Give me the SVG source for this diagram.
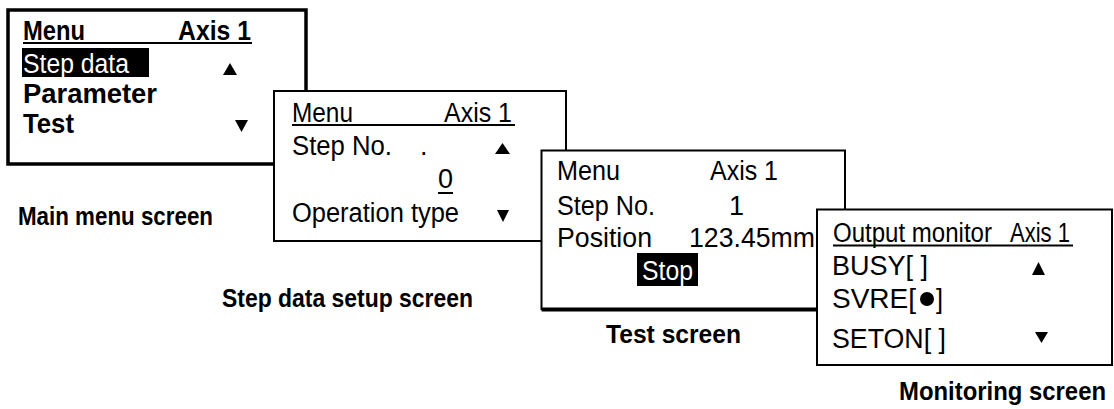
<svg xmlns="http://www.w3.org/2000/svg" width="1114" height="409" viewBox="0 0 1114 409">
<style>
.box{fill:#fff;stroke:#000}
.t{font-family:"Liberation Sans",Arial,sans-serif;font-size:27px;fill:#000}
.b{font-weight:bold}
.w{fill:#fff}
.lbl{font-family:"Liberation Sans",Arial,sans-serif;font-size:25px;font-weight:bold;fill:#000}
.ul{stroke:#000;stroke-width:2}
.tri{fill:#000}
</style>
<g id="connectors"></g>
<g id="main-menu">
<rect class="box" x="8" y="10" width="298" height="154" stroke-width="3.5"/>
<text class="t b" x="23" y="40" font-size="24" textLength="62" lengthAdjust="spacingAndGlyphs">Menu</text>
<text class="t b" x="178" y="40" font-size="24" textLength="73" lengthAdjust="spacingAndGlyphs">Axis 1</text>
<line class="ul" x1="23" y1="43" x2="252" y2="43" stroke-width="2.5"/>
<rect x="22" y="48" width="127" height="29" fill="#000"/>
<text class="t w" x="23" y="73" font-size="28" textLength="106" lengthAdjust="spacingAndGlyphs">Step data</text>
<polygon class="tri" points="223,75 237,75 230,63"/>
<text class="t b" x="23" y="103" font-size="24" textLength="134" lengthAdjust="spacingAndGlyphs">Parameter</text>
<text class="t b" x="23" y="133" font-size="24" textLength="51" lengthAdjust="spacingAndGlyphs">Test</text>
<polygon class="tri" points="235,120 248,120 241.5,132"/>
</g>
<g id="step-data-setup">
<rect class="box" x="274" y="91" width="292" height="150" stroke-width="2"/>
<text class="t" x="292" y="122" textLength="61" lengthAdjust="spacingAndGlyphs">Menu</text>
<text class="t" x="444" y="122" textLength="68" lengthAdjust="spacingAndGlyphs">Axis 1</text>
<line class="ul" x1="292" y1="125" x2="515" y2="125" stroke-width="1.6"/>
<text class="t" x="292" y="155" textLength="100" lengthAdjust="spacingAndGlyphs">Step No.</text>
<text class="t" x="420" y="155">.</text>
<polygon class="tri" points="495,154 510,154 502.5,143"/>
<text class="t" x="438" y="188">0</text>
<line class="ul" x1="438" y1="193" x2="453" y2="193" stroke-width="1.6"/>
<text class="t" x="292" y="222" textLength="167" lengthAdjust="spacingAndGlyphs">Operation type</text>
<polygon class="tri" points="497,210 509,210 503,222"/>
</g>
<g id="test">
<rect class="box" x="541.5" y="150.5" width="303.5" height="158.5" stroke-width="2"/>
<line x1="541.5" y1="309.5" x2="845" y2="309.5" stroke="#000" stroke-width="4"/>
<text class="t" x="557" y="180" font-size="28" textLength="63" lengthAdjust="spacingAndGlyphs">Menu</text>
<text class="t" x="710" y="180" font-size="28" textLength="68" lengthAdjust="spacingAndGlyphs">Axis 1</text>
<text class="t" x="557" y="215" font-size="28" textLength="98" lengthAdjust="spacingAndGlyphs">Step No.</text>
<text class="t" x="729" y="215" font-size="28">1</text>
<text class="t" x="557" y="247" font-size="28" textLength="95" lengthAdjust="spacingAndGlyphs">Position</text>
<text class="t" x="689" y="247" font-size="28" textLength="126" lengthAdjust="spacingAndGlyphs">123.45mm</text>
<rect x="637" y="253" width="61" height="33" fill="#000"/>
<text class="t w" x="642" y="280" font-size="30" textLength="51" lengthAdjust="spacingAndGlyphs">Stop</text>
</g>
<g id="monitoring">
<rect class="box" x="817" y="209.5" width="295" height="155.5" stroke-width="2"/>
<text class="t" x="833" y="242" textLength="159" lengthAdjust="spacingAndGlyphs">Output monitor</text>
<text class="t" x="1010" y="242" textLength="60" lengthAdjust="spacingAndGlyphs">Axis 1</text>
<line class="ul" x1="833" y1="245.5" x2="1073" y2="245.5" stroke-width="1.6"/>
<text class="t" x="832" y="275" textLength="96" lengthAdjust="spacingAndGlyphs">BUSY[ ]</text>
<polygon class="tri" points="1032,275 1045,275 1038.5,262"/>
<text class="t" x="832" y="308" textLength="84" lengthAdjust="spacingAndGlyphs">SVRE[</text>
<circle cx="927" cy="299" r="7" fill="#000"/>
<text class="t" x="936" y="308" textLength="7" lengthAdjust="spacingAndGlyphs">]</text>
<text class="t" x="832" y="348" textLength="114" lengthAdjust="spacingAndGlyphs">SETON[ ]</text>
<polygon class="tri" points="1035,332 1048,332 1041.5,343"/>
</g>
<g id="labels">
<text class="lbl" x="18" y="225" textLength="195" lengthAdjust="spacingAndGlyphs">Main menu screen</text>
<text class="lbl" x="222" y="307" textLength="251" lengthAdjust="spacingAndGlyphs">Step data setup screen</text>
<text class="lbl" x="606" y="343" textLength="135" lengthAdjust="spacingAndGlyphs">Test screen</text>
<text class="lbl" x="899" y="400" textLength="207" lengthAdjust="spacingAndGlyphs">Monitoring screen</text>
</g>
</svg>
